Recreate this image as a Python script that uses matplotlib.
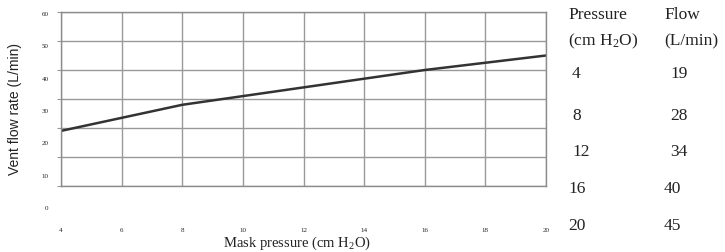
import matplotlib
matplotlib.use("Agg")
import matplotlib.pyplot as plt

# Data
pressure = [4, 8, 12, 16, 20]
flow = [19, 28, 34, 40, 45]
x_ticks = [4, 6, 8, 10, 12, 14, 16, 18, 20]
y_ticks = [0, 10, 20, 30, 40, 50, 60]
table_headers = [["Pressure", "(cm H$_2$O)"], ["Flow", "(L/min)"]]

plt.rcParams['mathtext.fontset'] = 'custom'
plt.rcParams['mathtext.rm'] = 'Liberation Serif'
plt.rcParams['mathtext.it'] = 'Liberation Serif:italic'

W, H = 725, 252
fig = plt.figure(figsize=(W / 100, H / 100), dpi=100)

def fx(px):
    return px / W

def fy(py):
    return 1 - py / H

grid_c = '#999999'
ax = fig.add_axes([fx(61), fy(186), fx(546) - fx(61), fy(12) - fy(186)])
ax.set_xlim(4, 20)
ax.set_ylim(0, 60)
ax.set_xticks(x_ticks)
ax.set_yticks(y_ticks)
ax.grid(True, color=grid_c, linewidth=1.0)
for s in ax.spines.values():
    s.set_color('#8c8c8c')
    s.set_linewidth(1.0)
ax.tick_params(axis='y', length=3, color=grid_c, labelleft=False)
ax.tick_params(axis='x', length=0, pad=30, labelsize=5, labelcolor='#222222')
for lab in ax.get_xticklabels():
    lab.set_family('Liberation Serif')
ax.plot(pressure, flow, color='#333333', linewidth=1.8, solid_capstyle='butt')

# y tick labels drawn on an offset axis (as in the reference)
ax2 = fig.add_axes([fx(61), fy(208), fx(546) - fx(61), fy(14) - fy(208)])
ax2.set_facecolor('none')
ax2.set_ylim(0, 60)
ax2.set_yticks(y_ticks)
ax2.set_yticklabels([str(v) for v in y_ticks], family='Liberation Serif', fontsize=5, color='#222222')
ax2.set_xticks([])
for s in ax2.spines.values():
    s.set_visible(False)
ax2.tick_params(axis='y', length=0, pad=9)

fig.text(fx(15), fy(109), "Vent flow rate (L/min)", rotation=90, ha='center', va='center',
         family='Liberation Sans', fontsize=10, color='#222222')
fig.text(fx(296.5), fy(243), "Mask pressure (cm H$_2$O)", ha='center', va='center',
         family='Liberation Serif', fontsize=10.5, color='#222222')

# Table
tfont = dict(family='Liberation Serif', fontsize=12.5, color='#222222', va='center', ha='left')
col_x = [568, 664]
head_y = [15, 41]
for cx, hdr in zip(col_x, table_headers):
    for hy, t in zip(head_y, hdr):
        fig.text(fx(cx), fy(hy), t, **tfont)
row_y = [74, 116, 152, 189, 226]
p_x = [572, 572, 572, 568, 568]
f_x = [670, 670, 670, 664, 664]
for ry, px_, fx_, p, f in zip(row_y, p_x, f_x, pressure, flow):
    fig.text(fx(px_), fy(ry), str(p), **tfont)
    fig.text(fx(fx_), fy(ry), str(f), **tfont)

fig.savefig("out.png", dpi=100)
